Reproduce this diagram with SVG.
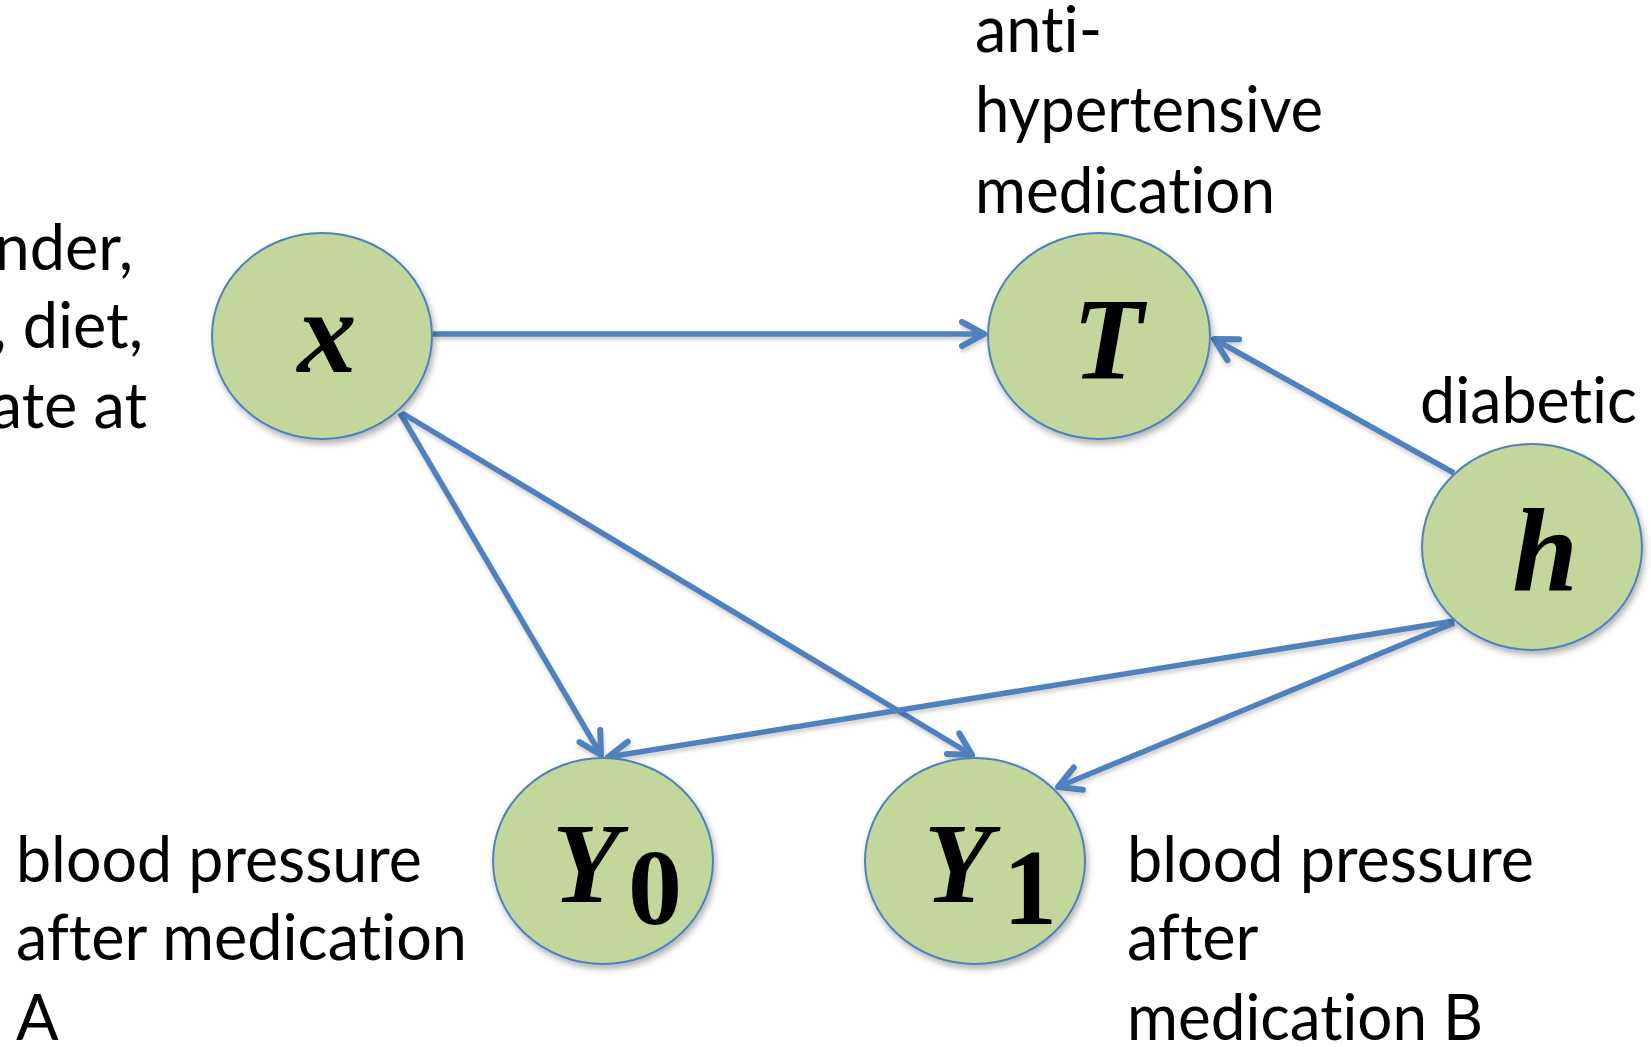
<svg xmlns="http://www.w3.org/2000/svg" width="1651" height="1047" viewBox="0 0 1651 1047">
<style>
.node{fill:#C3D69B;stroke:#4F81BD;stroke-width:2;filter:url(#sh)}
.lbl{font-family:Lato,"Open Sans",sans-serif;font-size:63px;fill:#000;font-variant-ligatures:none;font-feature-settings:"liga" 0}
.m{font-family:"Liberation Serif",serif;font-weight:bold;font-style:italic;fill:#000}
.d{font-family:"Liberation Serif",serif;font-weight:bold;fill:#000}
.c{stroke:#4F81BD;stroke-width:5.5;fill:none;marker-end:url(#ah);filter:url(#lsh)}
</style>
<defs>
<filter id="sh" x="-20%" y="-20%" width="140%" height="150%">
<feDropShadow dx="2" dy="4" stdDeviation="3" flood-color="#000" flood-opacity="0.3"/>
</filter>
<filter id="lsh" filterUnits="userSpaceOnUse" x="0" y="0" width="1651" height="1047">
<feDropShadow dx="1" dy="3" stdDeviation="2" flood-color="#000" flood-opacity="0.2"/>
</filter>
<marker id="ah" markerUnits="userSpaceOnUse" viewBox="-30 -18 34 36" markerWidth="34" markerHeight="36" refX="0" refY="0" orient="auto" overflow="visible">
<path d="M-22,-12 L0,0 L-22,12" fill="none" stroke="#4F81BD" stroke-width="6" stroke-linecap="round" stroke-linejoin="round"/>
</marker>
</defs>
<g id="connectors">
<line class="c" x1="433" y1="334" x2="984" y2="334"/>
<line class="c" x1="1454" y1="473" x2="1214" y2="339"/>
<line class="c" x1="400" y1="413" x2="601" y2="755"/>
<line class="c" x1="402" y1="413" x2="972" y2="755"/>
<line class="c" x1="1454" y1="621" x2="608" y2="757"/>
<line class="c" x1="1454" y1="623" x2="1058" y2="787"/>
</g>
<g id="node-x">
<ellipse class="node" cx="322" cy="336" rx="110" ry="103"/>
<text class="m" x="327" y="372" font-size="118" text-anchor="middle">x</text>
</g>
<g id="node-T">
<ellipse class="node" cx="1099" cy="336" rx="111" ry="103"/>
<text class="m" x="1108" y="378" font-size="116" text-anchor="middle">T</text>
</g>
<g id="node-h">
<ellipse class="node" cx="1532" cy="547" rx="110" ry="103"/>
<text class="m" x="1545" y="590" font-size="118" text-anchor="middle">h</text>
</g>
<g id="node-Y0">
<ellipse class="node" cx="603" cy="861" rx="110" ry="103"/>
<text class="m" x="552" y="902" font-size="114" textLength="68" lengthAdjust="spacingAndGlyphs">Y</text>
<text class="d" x="628" y="924" font-size="108">0</text>
</g>
<g id="node-Y1">
<ellipse class="node" cx="975" cy="861" rx="110" ry="103"/>
<text class="m" x="924" y="902" font-size="114" textLength="68" lengthAdjust="spacingAndGlyphs">Y</text>
<text class="d" x="1003" y="924" font-size="108">1</text>
</g>
<g id="labels">
<text class="lbl" x="133" y="270" text-anchor="end">nder,</text>
<text class="lbl" x="143" y="348" text-anchor="end">, diet,</text>
<text class="lbl" x="147" y="428" text-anchor="end">ate at</text>
<text class="lbl" x="975" y="52">anti-</text>
<text class="lbl" x="975" y="132" textLength="348" lengthAdjust="spacingAndGlyphs">hypertensive</text>
<text class="lbl" x="975" y="213" textLength="300" lengthAdjust="spacingAndGlyphs">medication</text>
<text class="lbl" x="1420" y="423" textLength="217" lengthAdjust="spacingAndGlyphs">diabetic</text>
<text class="lbl" x="16" y="882" textLength="406" lengthAdjust="spacingAndGlyphs">blood pressure</text>
<text class="lbl" x="16" y="960" textLength="451" lengthAdjust="spacingAndGlyphs">after medication</text>
<text class="lbl" x="16" y="1040">A</text>
<text class="lbl" x="1127" y="882" textLength="407" lengthAdjust="spacingAndGlyphs">blood pressure</text>
<text class="lbl" x="1127" y="960">after</text>
<text class="lbl" x="1127" y="1040" textLength="356" lengthAdjust="spacingAndGlyphs">medication B</text>
</g>
</svg>
